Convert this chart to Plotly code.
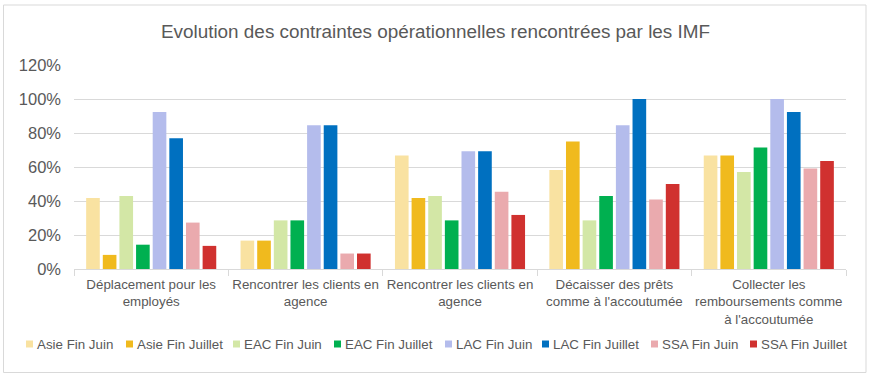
import plotly.graph_objects as go

# ---------------- data ----------------
categories = [
    "Déplacement pour les<br>employés",
    "Rencontrer les clients en<br>agence",
    "Rencontrer les clients en<br>agence",
    "Décaisser des prêts<br>comme à l'accoutumée",
    "Collecter les<br>remboursements comme<br>à l'accoutumée",
]
series_names = [
    "Asie Fin Juin", "Asie Fin Juillet", "EAC Fin Juin", "EAC Fin Juillet",
    "LAC Fin Juin", "LAC Fin Juillet", "SSA Fin Juin", "SSA Fin Juillet",
]
asie_juin = [0.417, 0.167, 0.667, 0.583, 0.667]
asie_juillet = [0.083, 0.167, 0.417, 0.750, 0.667]
eac_juin = [0.429, 0.286, 0.429, 0.286, 0.571]
eac_juillet = [0.143, 0.286, 0.286, 0.429, 0.714]
lac_juin = [0.923, 0.846, 0.692, 0.846, 1.000]
lac_juillet = [0.769, 0.846, 0.692, 1.000, 0.923]
ssa_juin = [0.273, 0.091, 0.455, 0.409, 0.591]
ssa_juillet = [0.136, 0.091, 0.318, 0.500, 0.636]
series_values = [asie_juin, asie_juillet, eac_juin, eac_juillet,
                 lac_juin, lac_juillet, ssa_juin, ssa_juillet]
y_tick_vals = [0, 0.2, 0.4, 0.6, 0.8, 1.0, 1.2]

# ---------------- style ----------------
colors = ["#F9E2A1", "#F0BA1E", "#D3E7A6", "#00B050",
          "#B4BCEC", "#0070C0", "#EAAAAE", "#D0312F"]
FONT = "Liberation Sans, Arial, sans-serif"
TEXT = "#595959"
GRID = "#D9D9D9"

W, H = 871, 380
ML, MR, MT, MB = 74, 25, 65, 111
PW, PH = W - ML - MR, H - MT - MB


def px_x(px):
    return (px - ML) / PW


def px_y(py):
    return (H - MB - py) / PH


x_idx = list(range(len(categories)))

fig = go.Figure()
for name, vals, col in zip(series_names, series_values, colors):
    fig.add_trace(go.Bar(x=x_idx, y=vals, name=name, marker_color=col,
                         marker_line_width=0, showlegend=False))

# manual legend (compact, like the original)
legend_px = [26, 126, 233, 334, 445, 542, 651, 750]
shapes = []
annotations = []
for name, col, sx in zip(series_names, colors, legend_px):
    shapes.append(dict(type="rect", xref="paper", yref="paper",
                       x0=px_x(sx), x1=px_x(sx + 7),
                       y0=px_y(347.5), y1=px_y(340.5),
                       fillcolor=col, line=dict(width=0)))
    annotations.append(dict(text=name, xref="paper", yref="paper",
                            x=px_x(sx + 8.5), y=px_y(344),
                            xanchor="left", yanchor="middle", showarrow=False,
                            font=dict(family=FONT, size=13.33, color=TEXT)))

# outer chart border
shapes.append(dict(type="rect", xref="paper", yref="paper",
                   x0=px_x(3.5), x1=px_x(866), y0=px_y(372.5), y1=px_y(5),
                   line=dict(color=GRID, width=1), layer="below"))

fig.update_layout(
    width=W, height=H,
    margin=dict(l=ML, r=MR, t=MT, b=MB),
    paper_bgcolor="white", plot_bgcolor="white",
    barmode="group", bargap=0.138, bargroupgap=0.18,
    title=dict(text="Evolution des contraintes opérationnelles rencontrées par les IMF",
               x=0.5, xanchor="center", y=1 - 31.5 / H, yanchor="middle",
               font=dict(family=FONT, size=18.9, color=TEXT)),
    font=dict(family=FONT, color=TEXT),
    shapes=shapes,
    annotations=annotations,
)
fig.update_xaxes(
    tickmode="array", tickvals=x_idx, ticktext=categories,
    range=[-0.5, len(categories) - 0.5],
    showgrid=False, showline=True, linecolor=GRID, linewidth=1,
    ticks="", ticklabelstandoff=3,
    tickfont=dict(family=FONT, size=13.33, color=TEXT),
    minor=dict(tickmode="array", tickvals=[i - 0.5 for i in range(len(categories) + 1)],
               ticks="outside", ticklen=6, tickcolor=GRID, tickwidth=1, showgrid=False),
    zeroline=False, fixedrange=True,
)
fig.update_yaxes(
    range=[0, 1.2], tickmode="array", tickvals=y_tick_vals, tickformat=".0%",
    showgrid=True, gridcolor=GRID, gridwidth=1, zeroline=False, showline=False,
    ticks="", ticklabelstandoff=12,
    tickfont=dict(family=FONT, size=16.5, color=TEXT), fixedrange=True,
)

fig.write_html("out.html", config={"displayModeBar": False},
               post_script="document.body.style.margin='0px';")
